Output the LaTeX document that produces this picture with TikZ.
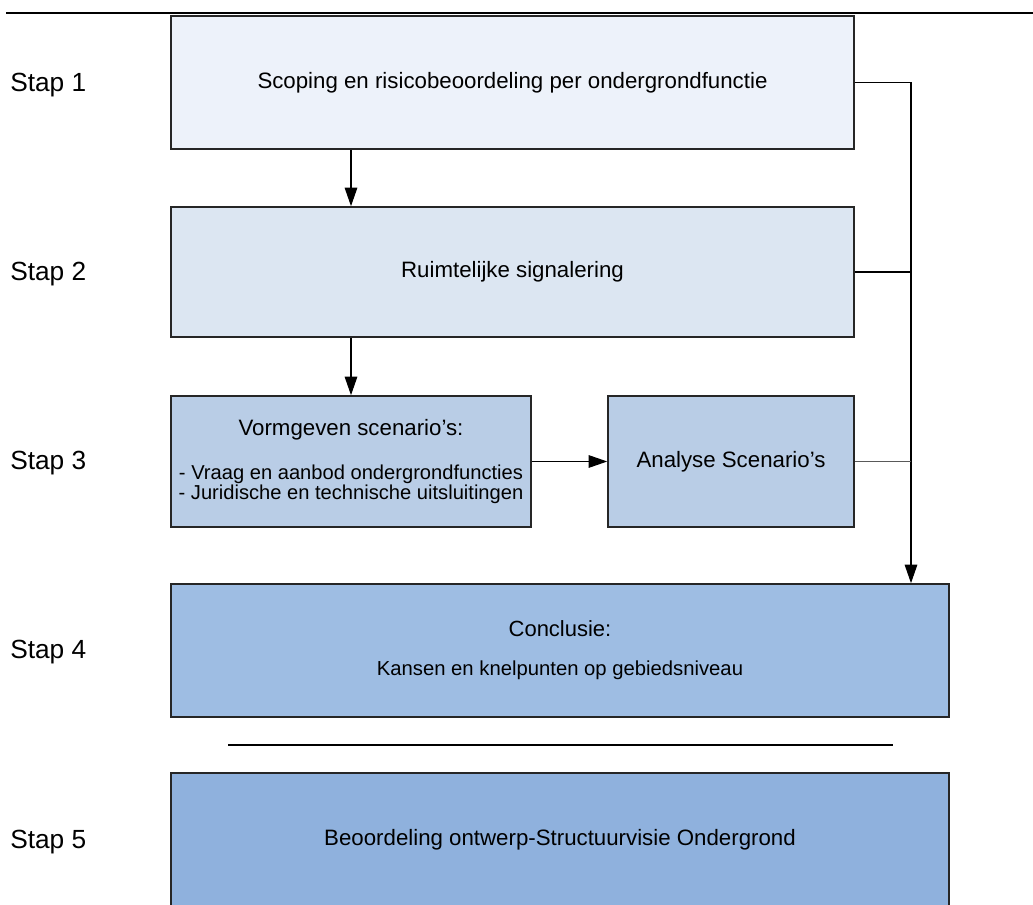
\documentclass[tikz,border=0pt]{standalone}
\usepackage{fontspec}
\setmainfont{Liberation Sans}
\usepackage{tikz}
\usetikzlibrary{positioning,arrows.meta}
\definecolor{fillA}{HTML}{EDF2FA}
\definecolor{fillB}{HTML}{DCE6F2}
\definecolor{fillC}{HTML}{B9CDE6}
\definecolor{fillD}{HTML}{9EBDE3}
\definecolor{fillE}{HTML}{8FB1DD}

\begin{document}
\begin{tikzpicture}[x=0.75pt,y=-0.75pt,
    box/.style={draw=black!85,line width=1.2pt,inner sep=0pt,align=center,
      font=\fontsize{16.7}{20}\selectfont},
    stap/.style={anchor=west,inner sep=0pt,font=\fontsize{19.7}{24}\selectfont},
    conn/.style={line width=0.8pt},
    pijl/.style={conn,-{Triangle[length=14pt,width=9.5pt]}}]
        \clip (0,0) rectangle (1033,905);
        \draw[line width=1.5pt] (6,13) -- (1033,13);% kopregel
        \node[box,fill=fillA,minimum width=512.25pt,minimum height=99.75pt] (s1) at (512.5,82.5)
          {Scoping en risicobeoordeling per ondergrondfunctie};
        \node[box,fill=fillB,minimum width=512.25pt,minimum height=97.5pt] (s2) at (512.5,272)
          {Ruimtelijke signalering};
        \node[box,fill=fillC,minimum width=270pt,minimum height=98.25pt,
          font=\fontsize{15.1}{13.5}\selectfont] (s3a) at (351,461.5)
          {{\fontsize{16.7}{20}\selectfont Vormgeven scenario's:}\\[18pt]
           - Vraag en aanbod ondergrondfuncties\\
           - Juridische en technische uitsluitingen};
        \node[box,fill=fillC,minimum width=184.5pt,minimum height=98.25pt] (s3b) at (731,461.5)
          {Analyse Scenario's};
        \node[box,fill=fillD,minimum width=583.5pt,minimum height=99.75pt,
          font=\fontsize{15.2}{18}\selectfont] (s4) at (560,650.5)
          {{\fontsize{16.5}{20}\selectfont Conclusie:}\\[11.25pt]
           Kansen en knelpunten op gebiedsniveau};
        \node[box,fill=fillE,minimum width=583.5pt,minimum height=100.5pt] (s5) at (560,840)
          {Beoordeling ontwerp-Structuurvisie Ondergrond};
        % labels
        \node[stap] (l1) at (10,85) {Stap 1};
        \node[stap] (l2) at (10,274) {Stap 2};
        \node[stap] (l3) at (10,463) {Stap 3};
        \node[stap] (l4) at (10,652) {Stap 4};
        \node[stap] (l5) at (10,842) {Stap 5};
        % pijlen
        \coordinate (bus) at (911,83);
        \draw[pijl] (s1.south -| s3a) -- (s2.north -| s3a);
        \draw[pijl] (s2.south -| s3a) -- (s3a.north);
        \draw[pijl] (s3a.east) -- (s3b.west);
        \draw[pijl] (s1.east) -| (bus |- s4.north);
        \draw[conn] (s2.east) -- (s2.east -| bus);
        \draw[conn,draw=black!65] (s3b.east) -- (s3b.east -| bus);
        \draw[line width=1.2pt] (228,745) -- (893,745);
\end{tikzpicture}
\end{document}
